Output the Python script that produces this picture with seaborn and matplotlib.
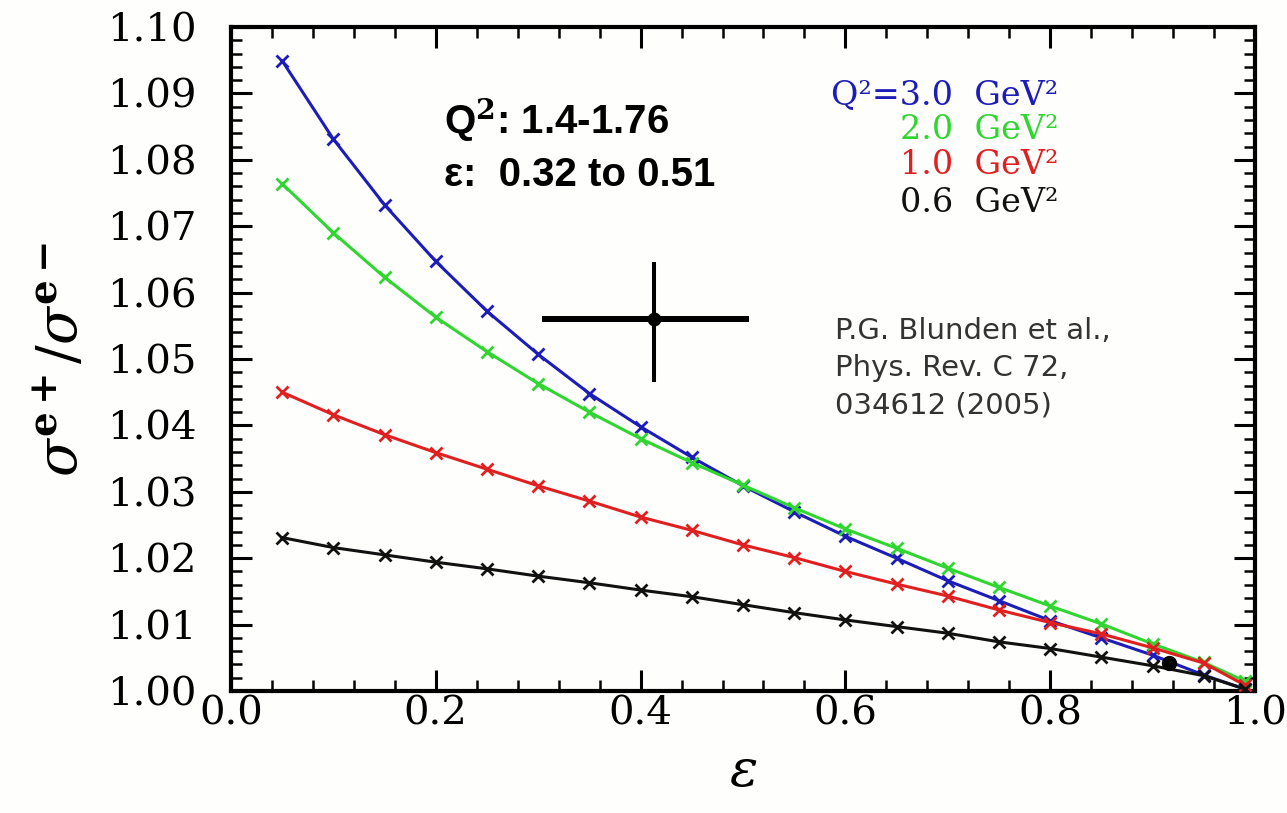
import numpy as np
import pandas as pd
import matplotlib
matplotlib.use("Agg")
import matplotlib.pyplot as plt
from matplotlib.ticker import MultipleLocator, FormatStrFormatter
import seaborn as sns

# Two-photon exchange correction: ratio of e+ to e- cross sections vs epsilon
eps = [0.05, 0.10, 0.15, 0.20, 0.25, 0.30, 0.35, 0.40, 0.45, 0.50,
       0.55, 0.60, 0.65, 0.70, 0.75, 0.80, 0.85, 0.90, 0.95, 0.99]

ratio_q3_0 = [1.0949, 1.0831, 1.0732, 1.0647, 1.0572, 1.0507, 1.0448, 1.0398, 1.0352, 1.0309,
              1.0270, 1.0233, 1.0200, 1.0166, 1.0136, 1.0106, 1.0080, 1.0054, 1.0024, 1.0003]
ratio_q2_0 = [1.0764, 1.0690, 1.0623, 1.0563, 1.0511, 1.0463, 1.0420, 1.0380, 1.0344, 1.0310,
              1.0276, 1.0244, 1.0215, 1.0185, 1.0156, 1.0128, 1.0101, 1.0071, 1.0043, 1.0015]
ratio_q1_0 = [1.0450, 1.0416, 1.0386, 1.0359, 1.0334, 1.0309, 1.0286, 1.0262, 1.0242, 1.0220,
              1.0201, 1.0180, 1.0161, 1.0143, 1.0122, 1.0103, 1.0086, 1.0065, 1.0042, 1.0009]
ratio_q0_6 = [1.0231, 1.0216, 1.0205, 1.0194, 1.0184, 1.0173, 1.0163, 1.0152, 1.0142, 1.0130,
              1.0118, 1.0107, 1.0097, 1.0087, 1.0074, 1.0064, 1.0051, 1.0038, 1.0023, 1.0003]

series_labels = ["Q\u00b2=3.0  GeV\u00b2", "2.0  GeV\u00b2", "1.0  GeV\u00b2", "0.6  GeV\u00b2"]
series_colors = ["#1c1cb8", "#2fd62f", "#e02020", "#111111"]

# Measurement point with its bin ranges
meas_eps, meas_eps_lo, meas_eps_hi = 0.413, 0.304, 0.506
meas_ratio, meas_ratio_lo, meas_ratio_hi = 1.0560, 1.0466, 1.0646
# Extra point near high epsilon
extra_eps, extra_ratio = 0.916, 1.0042

rows = []
for lab, vals in zip(series_labels, [ratio_q3_0, ratio_q2_0, ratio_q1_0, ratio_q0_6]):
    for e, r in zip(eps, vals):
        rows.append({"eps": e, "ratio": r, "series": lab})
df = pd.DataFrame(rows)

sns.set_theme(style="ticks")
plt.rcParams["font.family"] = ["DejaVu Serif", "DejaVu Sans"]
plt.rcParams["mathtext.fontset"] = "dejavuserif"

bg = "#fefefc"
fig = plt.figure(figsize=(12.87, 8.13), dpi=100, facecolor=bg)
ax = fig.add_axes([231 / 1287, 1 - 691 / 813, (1255 - 231) / 1287, (691 - 27) / 813])
ax.set_facecolor(bg)

for lab, col in zip(series_labels, series_colors):
    sub = df[df["series"] == lab]
    sns.lineplot(data=sub, x="eps", y="ratio", ax=ax, color=col, lw=2.2,
                 marker="x", markersize=8, markeredgewidth=2.0,
                 markeredgecolor=col, legend=False, zorder=3)

# Measurement with error bars (thicker horizontal bar)
ax.errorbar([meas_eps], [meas_ratio],
            xerr=[[meas_eps - meas_eps_lo], [meas_eps_hi - meas_eps]],
            fmt="none", ecolor="black", elinewidth=4.3, capsize=0, zorder=5)
ax.errorbar([meas_eps], [meas_ratio],
            yerr=[[meas_ratio - meas_ratio_lo], [meas_ratio_hi - meas_ratio]],
            fmt="o", color="black", ms=9, elinewidth=2.9, capsize=0, zorder=6)
ax.plot([extra_eps], [extra_ratio], "o", color="black", ms=10, zorder=6)

ax.set_xlim(0.0, 1.0)
ax.set_ylim(1.0, 1.10)
ax.xaxis.set_major_locator(MultipleLocator(0.2))
ax.xaxis.set_minor_locator(MultipleLocator(0.04))
ax.yaxis.set_major_locator(MultipleLocator(0.01))
ax.yaxis.set_minor_locator(MultipleLocator(0.002))
ax.xaxis.set_major_formatter(FormatStrFormatter("%.1f"))
ax.yaxis.set_major_formatter(FormatStrFormatter("%.2f"))

ax.tick_params(which="both", direction="in", top=True, right=True, color="black",
               labelcolor="black")
ax.tick_params(which="major", length=15, width=2.2, labelsize=29)
ax.tick_params(axis="x", which="major", pad=3)
ax.tick_params(axis="y", which="major", pad=25)
ax.tick_params(which="minor", length=8, width=1.8)
for sp in ax.spines.values():
    sp.set_linewidth(3)
    sp.set_color("black")

ax.set_xlabel(r"$\varepsilon$", fontsize=38, labelpad=10, color="black")
ax.set_ylabel(r"$\sigma^{\mathbf{e+}}/\sigma^{\mathbf{e-}}$", fontsize=40, labelpad=12,
              color="black")

# Legend as coloured text lines
legend_y = [1.0898, 1.0845, 1.0792, 1.0735]
for lab, col, yv in zip(series_labels, series_colors, legend_y):
    ax.text(0.808, yv, lab, color=col, fontsize=24, ha="right", va="center",
            family="DejaVu Serif")

ax.text(0.208, 1.0860, "Q$^{\\mathbf{2}}$: 1.4-1.76", fontsize=29, fontweight="bold",
        family="Liberation Sans", ha="left", va="center", color="black")
ax.text(0.208, 1.0777, "\u03b5:  0.32 to 0.51", fontsize=29, fontweight="bold",
        family="Liberation Sans", ha="left", va="center", color="black")

ax.text(0.590, 1.0486, "P.G. Blunden et al.,\nPhys. Rev. C 72,\n034612 (2005)",
        fontsize=21, family="DejaVu Sans", color="#333333", ha="left", va="center",
        linespacing=1.4)

fig.savefig("out.png", dpi=100, facecolor=bg)
